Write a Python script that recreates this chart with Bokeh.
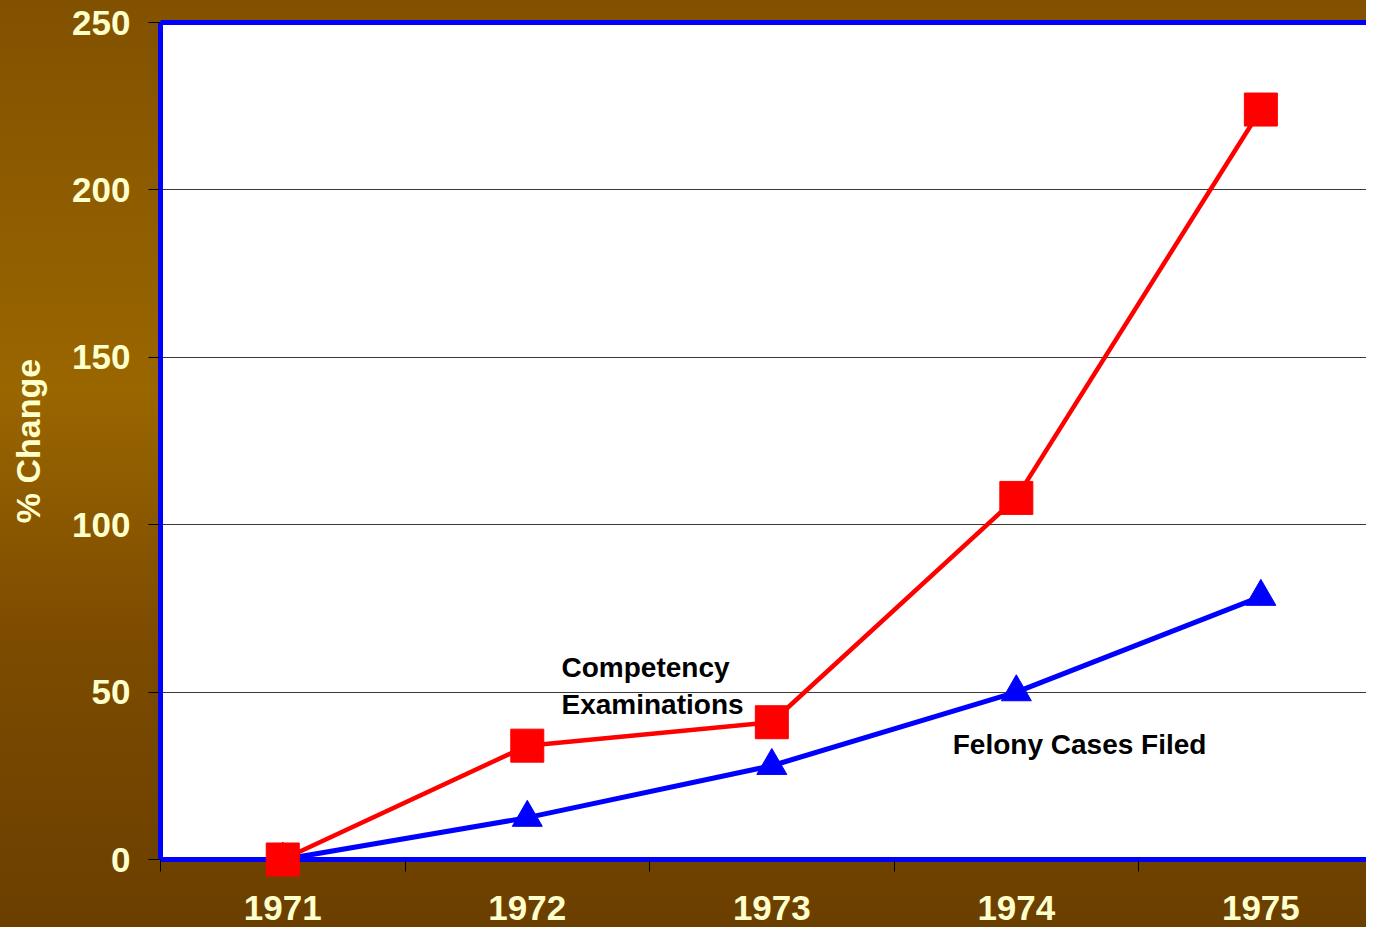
from bokeh.plotting import figure
from bokeh.models import FixedTicker, LinearAxis, Range1d, InlineStyleSheet
from bokeh.core.properties import value
from bokeh.embed import file_html
from bokeh.resources import INLINE

# ---- data ----
years = [1971, 1972, 1973, 1974, 1975]
competency = [0, 34, 41, 108, 224]
felony = [0, 12.5, 28, 50, 78.5]
y_ticks = [0, 50, 100, 150, 200, 250]
y_title = "% Change"
notes = ["Competency", "Examinations", "Felony Cases Filed"]
note_x = [1972.14, 1972.14, 1973.74]
note_y = [57.3, 46.3, 34.3]

FONT = "Liberation Sans"
CREAM = "#FFFFCC"

css = InlineStyleSheet(css=":host { background: linear-gradient(180deg, #825100 0%, #9a6600 42%, #7d4c00 68%, #6b3f00 100%); }")

p = figure(width=1366, height=927, output_backend="svg", toolbar_location=None,
           x_range=Range1d(1970.5, 1975.432), y_range=Range1d(0, 250),
           min_border_left=160, min_border_top=22, min_border_bottom=68, min_border_right=0,
           background_fill_color="white", border_fill_alpha=0, outline_line_color=None,
           stylesheets=[css])

# x axis
p.xaxis.ticker = FixedTicker(ticks=years, minor_ticks=[y - 0.5 for y in years])
p.xaxis.major_tick_line_color = None
p.xaxis.major_tick_out = 12
p.xaxis.major_tick_in = 0
p.xaxis.minor_tick_out = 12
p.xaxis.minor_tick_in = 0
p.xaxis.minor_tick_line_color = "black"
p.xaxis.axis_line_color = "blue"
p.xaxis.axis_line_width = 5
p.xaxis.major_label_text_font = FONT
p.xaxis.major_label_text_font_style = "bold"
p.xaxis.major_label_text_font_size = "35px"
p.xaxis.major_label_text_color = CREAM
p.xaxis.major_label_standoff = 24

# y axis
p.yaxis.ticker = FixedTicker(ticks=y_ticks)
p.yaxis.major_tick_out = 12
p.yaxis.major_tick_in = 0
p.yaxis.major_tick_line_color = "black"
p.yaxis.minor_tick_line_color = None
p.yaxis.axis_line_color = "blue"
p.yaxis.axis_line_width = 5
p.yaxis.major_label_text_font = FONT
p.yaxis.major_label_text_font_style = "bold"
p.yaxis.major_label_text_font_size = "35px"
p.yaxis.major_label_text_color = CREAM
p.yaxis.major_label_standoff = 18
p.yaxis.axis_label = y_title
p.yaxis.axis_label_text_font = FONT
p.yaxis.axis_label_text_font_style = "bold"
p.yaxis.axis_label_text_font_size = "34px"
p.yaxis.axis_label_text_color = CREAM
p.yaxis.axis_label_standoff = 22

# top border line
top = LinearAxis(ticker=FixedTicker(ticks=[]), axis_line_color="blue", axis_line_width=5,
                 major_tick_line_color=None, minor_tick_line_color=None,
                 major_tick_out=0, minor_tick_out=0, major_label_text_font_size="0px")
p.add_layout(top, "above")

# grid
p.xgrid.visible = False
p.ygrid.ticker = FixedTicker(ticks=y_ticks)
p.ygrid.grid_line_color = "#3a3a3a"
p.ygrid.grid_line_width = 1

# series
p.line(years, felony, line_color="blue", line_width=5, level="overlay")
p.scatter(years, felony, marker="triangle", size=30, color="blue", level="overlay")
p.line(years, competency, line_color="red", line_width=4.5, level="overlay")
p.scatter(years, competency, marker="square", size=33, color="red", level="overlay")

p.text(note_x, note_y, text=notes, text_font=value(FONT), text_font_style="bold",
       text_font_size="28px", text_color="black", text_baseline="middle", text_align="left")

open("out.html", "w").write(file_html(p, INLINE))
